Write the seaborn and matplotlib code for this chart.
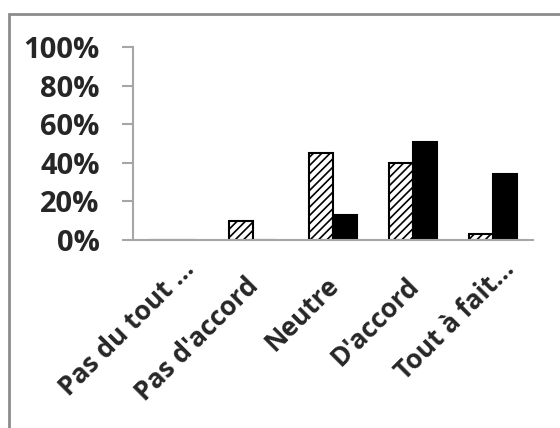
import pandas as pd
import matplotlib.pyplot as plt
import matplotlib.patches as mpatches
import matplotlib.transforms as mtransforms
import seaborn as sns

# --- DATA ---
categories = ["Pas du tout …", "Pas d'accord", "Neutre", "D'accord", "Tout à fait…"]
series_names = ["Série 1", "Série 2"]
serie1 = [0.0, 10.0, 45.0, 40.0, 3.0]   # hatched bars
serie2 = [0.0, 0.0, 13.0, 51.0, 34.0]   # black bars
yticks = [0, 20, 40, 60, 80, 100]

df = pd.DataFrame({
    "categorie": categories * 2,
    "serie": [series_names[0]] * len(categories) + [series_names[1]] * len(categories),
    "valeur": serie1 + serie2,
})

# --- PLOT ---
sns.set_theme(style="white")
plt.rcParams['font.family'] = ['Open Sans', 'DejaVu Sans']
plt.rcParams['hatch.linewidth'] = 1.2

fig = plt.figure(figsize=(5.6, 4.28), dpi=100)
ax = fig.add_axes([133 / 560, 1 - 240 / 428, 400 / 560, 193 / 428])

sns.barplot(data=df, x="categorie", y="valeur", hue="serie", order=categories,
            hue_order=series_names, palette=["white", "black"], width=0.6,
            edgecolor="black", linewidth=1.5, legend=False, ax=ax)

# hatch the first series
for bar in ax.containers[0]:
    bar.set_hatch("////")

ax.set_ylim(0, 100)
ax.set_xlim(-0.5, len(categories) - 0.5)
ax.set_yticks(yticks)
ax.set_yticklabels([f"{t}%" for t in yticks], fontsize=21, fontweight="bold")

# labels at category centers, tick marks at category boundaries
ax.set_xticks(range(len(categories)))
ax.set_xticklabels(categories, rotation=45, ha="right", va="baseline", rotation_mode="anchor",
                   fontsize=19, fontweight="bold")
ax.tick_params(axis="x", which="major", length=0, pad=0)
for lab in ax.get_xticklabels():
    # truncated labels (ending with an ellipsis) reach further along the diagonal
    if lab.get_text().endswith("…"):
        shift = mtransforms.ScaledTranslation(0.23, -0.30, fig.dpi_scale_trans)
    else:
        shift = mtransforms.ScaledTranslation(0.07, -0.47, fig.dpi_scale_trans)
    lab.set_transform(lab.get_transform() + shift)
ax.set_xticks([i - 0.5 for i in range(len(categories) + 1)], minor=True)
ax.tick_params(axis="x", which="minor", length=7, width=1.5, color="#a6a6a6", direction="out")
ax.tick_params(axis="y", length=8, width=1.5, color="#a6a6a6", direction="out", left=True, pad=16)

ax.set_xlabel("")
ax.set_ylabel("")
for side in ["top", "right"]:
    ax.spines[side].set_visible(False)
for side in ["left", "bottom"]:
    ax.spines[side].set_color("#a6a6a6")
    ax.spines[side].set_linewidth(1.5)

# outer chart frame (clipped at right and bottom)
frame = mpatches.Rectangle((9 / 560, -0.1), 1.2, 1 - 14 / 428 + 0.1, transform=fig.transFigure,
                           fill=False, edgecolor="#8c8c8c", linewidth=2)
fig.patches.append(frame)

fig.savefig("out.png", dpi=100)
